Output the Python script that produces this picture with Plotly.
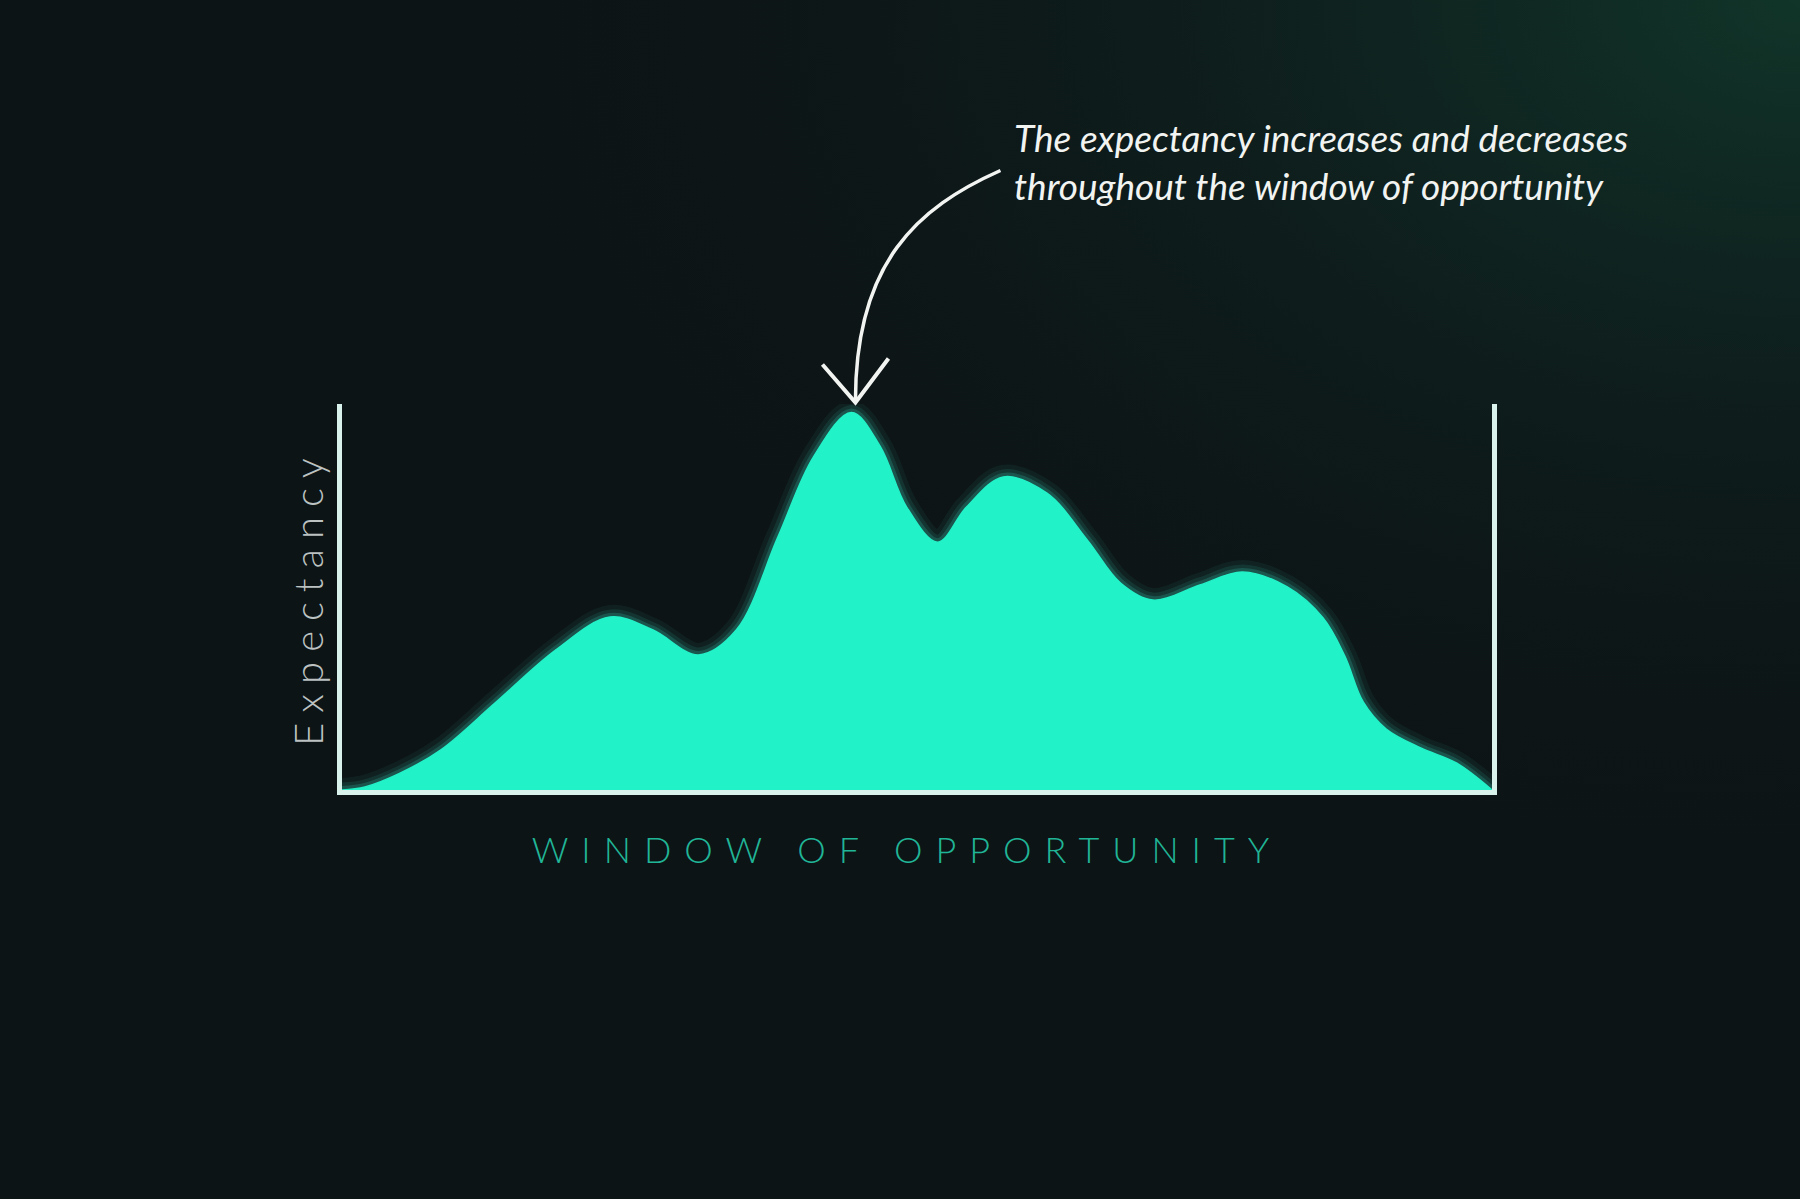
import base64
import plotly.graph_objects as go

# window position (0-100) and expectancy (0-100)
window = [0, 2, 5, 8.6, 13.3, 18.6, 23.3, 27, 31, 34.3, 37.9, 41, 44.3, 46.8,
          49.1, 51.8, 54.3, 57.5, 61.3, 64.8, 67.7, 70.5, 74.6, 78.3, 82.2,
          85.3, 87.2, 88.8, 90.8, 93.8, 96.9, 100]
expectancy = [0, 0.8, 4.3, 10.4, 22.5, 36.3, 44.8, 41.5, 35, 41.5, 65.5, 86.3,
              97.8, 89, 73.3, 64.2, 73.3, 81.1, 76.9, 64.8, 53.6, 49.2, 53.1,
              56.5, 52.6, 44.6, 34.7, 22.8, 15.8, 10.9, 7, 0]

note = "The expectancy increases and decreases<br>throughout the window of opportunity"
x_title = "WINDOW OF OPPORTUNITY"
y_title = "Expectancy"

W, H = 1800, 1199
L, R, T, B = 342, 308, 404, 409
pw, ph = W - L - R, H - T - B

teal = "#22f2c8"

fig = go.Figure()

# soft glow under the curve
for w, a in [(24, 0.06), (15, 0.10), (8, 0.18)]:
    fig.add_trace(go.Scatter(
        x=window, y=expectancy, mode="lines",
        line=dict(shape="spline", smoothing=1.0, width=w, color=f"rgba(60,235,205,{a})"),
        hoverinfo="skip", showlegend=False,
    ))

fig.add_trace(go.Scatter(
    x=window, y=expectancy, mode="lines", fill="tozeroy",
    fillcolor=teal,
    line=dict(shape="spline", smoothing=1.0, width=1.5, color=teal),
    showlegend=False, name="",
))

# background with a faint green glow in the top-right corner
svg = f"""<svg xmlns='http://www.w3.org/2000/svg' width='{W}' height='{H}'>
<defs><radialGradient id='g' cx='1' cy='0' r='0.75'>
<stop offset='0' stop-color='#113529' stop-opacity='1'/>
<stop offset='0.45' stop-color='#0f2421' stop-opacity='0.6'/>
<stop offset='1' stop-color='#0d1416' stop-opacity='0'/>
</radialGradient></defs>
<rect width='100%' height='100%' fill='#0d1416'/>
<rect width='100%' height='100%' fill='url(#g)'/>
</svg>"""
bg = "data:image/svg+xml;base64," + base64.b64encode(svg.encode()).decode()


def px(X):
    return (X - L) / pw


def py(Y):
    return (H - B - Y) / ph


fig.add_layout_image(dict(
    source=bg, xref="paper", yref="paper",
    x=px(0), y=py(0), sizex=W / pw, sizey=H / ph,
    xanchor="left", yanchor="top", sizing="stretch", layer="below",
))

# curved arrow pointing at the highest point
i_pk = expectancy.index(max(expectancy))
tip_x = L + window[i_pk] / 100 * pw + 4
tip_y = H - B - expectancy[i_pk] / 100 * ph - 10
arrow = (f"M {px(tip_x + 145)},{py(tip_y - 232)} "
         f"C {px(tip_x + 62)},{py(tip_y - 195)} {px(tip_x)},{py(tip_y - 140)} "
         f"{px(tip_x)},{py(tip_y - 2)}")
head = (f"M {px(tip_x - 33)},{py(tip_y - 38)} L {px(tip_x)},{py(tip_y)} "
        f"L {px(tip_x + 33)},{py(tip_y - 44)}")
fig.add_shape(type="path", path=arrow, xref="paper", yref="paper",
              line=dict(color="#f2f4f2", width=3.5))
fig.add_shape(type="path", path=head, xref="paper", yref="paper",
              line=dict(color="#f2f4f2", width=4))

fig.add_annotation(
    text=note, xref="paper", yref="paper", x=px(1012), y=py(113),
    xanchor="left", yanchor="top", align="left", showarrow=False,
    font=dict(family="Lato", size=37, color="#f2f4f2", style="italic"),
)

fig.update_layout(
    width=W, height=H,
    margin=dict(l=L, r=R, t=T, b=B, pad=0),
    paper_bgcolor="#0d1416", plot_bgcolor="rgba(0,0,0,0)",
    showlegend=False,
    xaxis=dict(
        range=[0, 100], showgrid=False, zeroline=False, showticklabels=False,
        ticks="", showline=True, linecolor="#d9f2ec", linewidth=5,
        title=dict(text=x_title, standoff=45,
                   font=dict(family="Lato", size=36, color="#20b596", weight=300)),
    ),
    yaxis=dict(
        range=[0, 100], showgrid=False, zeroline=False, showticklabels=False,
        ticks="", showline=True, mirror=True, linecolor="#d9f2ec", linewidth=5,
        title=dict(text=y_title, standoff=3,
                   font=dict(family="Lato", size=40, color="#bcc2c1", weight=300)),
    ),
)

post = """
document.body.style.margin = '0';
document.body.style.background = '#0d1416';
document.querySelectorAll('.xtitle').forEach(function (e) {
    e.style.letterSpacing = '13px';
    e.style.transform = 'translateX(-10px)';
});
document.querySelectorAll('.ytitle').forEach(function (e) { e.style.letterSpacing = '10px'; });
"""

fig.write_html("out.html", post_script=post, config={"displayModeBar": False})
